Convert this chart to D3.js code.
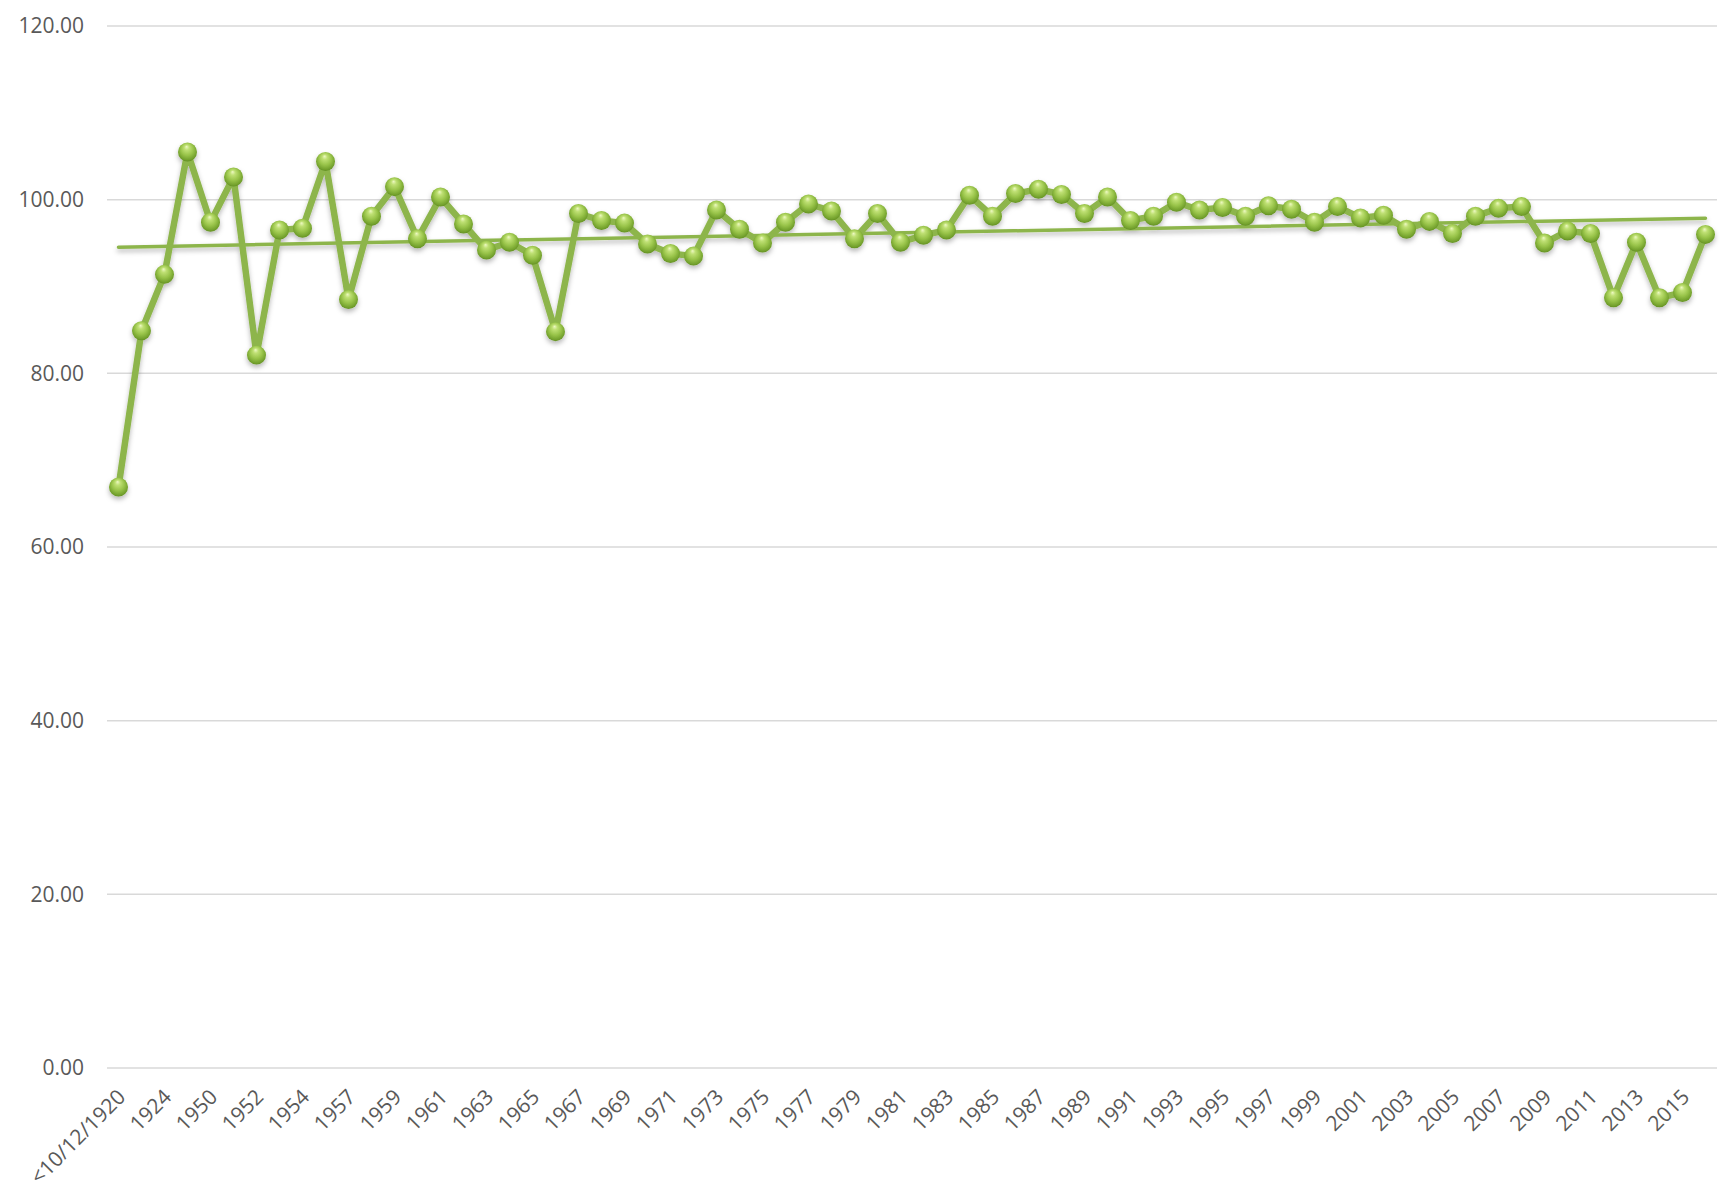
<!DOCTYPE html>
<html>
<head>
<meta charset="utf-8">
<script src="https://cdn.jsdelivr.net/npm/d3@7"></script>
<style>
  html, body { margin: 0; padding: 0; background: #ffffff; }
  svg { display: block; }
  text { font-family: "Open Sans", "Liberation Sans", sans-serif; fill: #595959; }
</style>
</head>
<body>
<svg id="chart" width="1720" height="1192"></svg>
<script>
// ---- data ----
const categories = [
  "<10/12/1920", "1922", "1924", "1925", "1950", "1951", "1952", "1953", "1954", "1955",
  "1957", "1958", "1959", "1960", "1961", "1962", "1963", "1964", "1965", "1966",
  "1967", "1968", "1969", "1970", "1971", "1972", "1973", "1974", "1975", "1976",
  "1977", "1978", "1979", "1980", "1981", "1982", "1983", "1984", "1985", "1986",
  "1987", "1988", "1989", "1990", "1991", "1992", "1993", "1994", "1995", "1996",
  "1997", "1998", "1999", "2000", "2001", "2002", "2003", "2004", "2005", "2006",
  "2007", "2008", "2009", "2010", "2011", "2012", "2013", "2014", "2015", "2016"
];
const values = [
  66.9, 84.9, 91.4, 105.5, 97.4, 102.6, 82.1, 96.5, 96.7, 104.4,
  88.5, 98.1, 101.5, 95.5, 100.3, 97.2, 94.2, 95.1, 93.6, 84.8,
  98.4, 97.6, 97.3, 94.9, 93.8, 93.5, 98.8, 96.6, 95.0, 97.4,
  99.5, 98.7, 95.5, 98.4, 95.1, 95.9, 96.5, 100.5, 98.1, 100.7,
  101.2, 100.6, 98.4, 100.3, 97.6, 98.1, 99.7, 98.8, 99.1, 98.1,
  99.3, 98.9, 97.4, 99.2, 97.9, 98.2, 96.6, 97.5, 96.1, 98.1,
  99.0, 99.2, 95.0, 96.4, 96.1, 88.7, 95.1, 88.7, 89.3, 96.0
];
const yTicks = [0, 20, 40, 60, 80, 100, 120];
// labels shown on the category axis (every other category)
const shownLabels = categories.filter((c, i) => i % 2 === 0);

// ---- layout ----
const plot = { left: 107, right: 1717, top: 26, bottom: 1068 };
const lineColor = "#8db54c";

const svg = d3.select("#chart");
const defs = svg.append("defs");

const shadow = defs.append("filter").attr("id", "shadow")
  .attr("x", "-20%").attr("y", "-20%").attr("width", "140%").attr("height", "140%");
shadow.append("feDropShadow").attr("dx", 0).attr("dy", 3).attr("stdDeviation", 2.5)
  .attr("flood-color", "#000").attr("flood-opacity", 0.28);

const grad = defs.append("radialGradient").attr("id", "ball")
  .attr("cx", "50%").attr("cy", "45%").attr("r", "60%").attr("fx", "45%").attr("fy", "22%");
[["0%", "#eef9c4"], ["22%", "#bfe074"], ["55%", "#99c44a"], ["85%", "#72a02c"], ["100%", "#5a841f"]]
  .forEach(([o, c]) => grad.append("stop").attr("offset", o).attr("stop-color", c));

const x = d3.scaleBand().domain(categories).range([plot.left, plot.right]).padding(0);
const cx = d => x(d) + x.bandwidth() / 2;
const y = d3.scaleLinear().domain([0, 120]).range([plot.bottom, plot.top]);

// gridlines
svg.append("g").selectAll("line").data(yTicks).join("line")
  .attr("x1", plot.left).attr("x2", plot.right)
  .attr("y1", d => y(d)).attr("y2", d => y(d))
  .attr("stroke", "#d9d9d9").attr("stroke-width", 1.5);

// y axis labels
const yAxis = d3.axisLeft(y).tickValues(yTicks).tickFormat(d3.format(".2f")).tickSize(0).tickPadding(0);
const gy = svg.append("g").attr("transform", "translate(84,0)").call(yAxis);
gy.select(".domain").remove();
gy.selectAll("text").attr("font-size", 21).attr("fill", "#595959")
  .style("font-family", "'Open Sans', sans-serif");

// x axis labels
const xAxis = d3.axisBottom(x).tickValues(shownLabels).tickSize(0).tickPadding(0);
const gx = svg.append("g").attr("transform", `translate(0,${plot.bottom})`).call(xAxis);
gx.select(".domain").remove();
gx.selectAll(".tick line").remove();
gx.selectAll("text")
  .attr("font-size", 21).attr("fill", "#595959")
  .style("font-family", "'Open Sans', sans-serif")
  .attr("text-anchor", "end")
  .attr("y", 0).attr("dy", "0.35em")
  .attr("transform", "translate(3,25) rotate(-45)");

// series
const data = categories.map((c, i) => ({ c, v: values[i], i }));
const series = svg.append("g").attr("filter", "url(#shadow)");

series.append("path").datum(data)
  .attr("fill", "none").attr("stroke", lineColor).attr("stroke-width", 6.5)
  .attr("stroke-linejoin", "round").attr("stroke-linecap", "round")
  .attr("d", d3.line().x(d => cx(d.c)).y(d => y(d.v)));

// linear trendline (least squares over category index)
const n = values.length;
const mi = d3.mean(data, d => d.i), mv = d3.mean(values);
const slope = d3.sum(data, d => (d.i - mi) * (d.v - mv)) / d3.sum(data, d => (d.i - mi) ** 2);
const icpt = mv - slope * mi;
const trend = [data[0], data[n - 1]].map(d => ({ c: d.c, v: icpt + slope * d.i }));
series.append("path").datum(trend)
  .attr("fill", "none").attr("stroke", lineColor).attr("stroke-width", 3.5)
  .attr("stroke-linecap", "round")
  .attr("d", d3.line().x(d => cx(d.c)).y(d => y(d.v)));

series.append("g").selectAll("circle").data(data).join("circle")
  .attr("cx", d => cx(d.c)).attr("cy", d => y(d.v)).attr("r", 9.5)
  .attr("fill", "url(#ball)");
</script>
</body>
</html>
